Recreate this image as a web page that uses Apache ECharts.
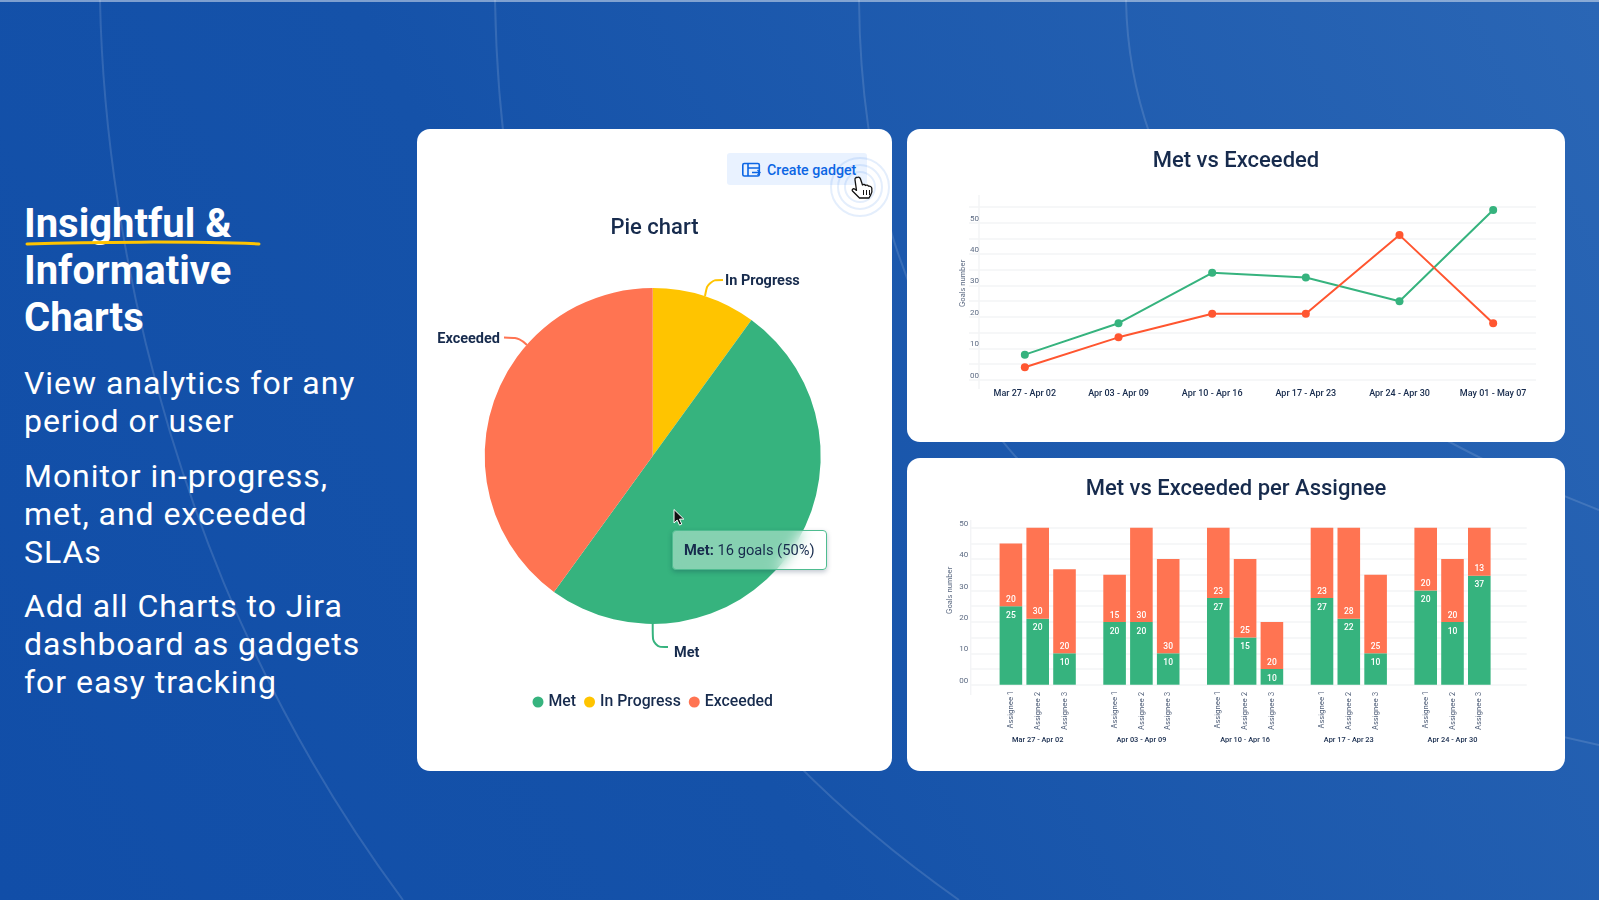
<!DOCTYPE html>
<html>
<head>
<meta charset="utf-8">
<title>Insightful & Informative Charts</title>
<script src="https://cdn.jsdelivr.net/npm/echarts@6/dist/echarts.min.js"></script>
<style>
html, body { margin: 0; padding: 0; }
body { width: 1599px; height: 900px; overflow: hidden; position: relative; font-family: Roboto, sans-serif;
       background: linear-gradient(62deg, #114ea8 0%, #1552a9 40%, #2a66b5 100%); }
#bg { position: absolute; left: 0; top: 0; }
.side { position: absolute; left: 24px; color: #fff; margin: 0; }
.head { top: 199.5px; font-size: 40px; line-height: 47px; font-weight: 700; white-space: nowrap; }
.txt { font-size: 32px; line-height: 38px; letter-spacing: 0.96px; font-weight: 400; white-space: nowrap; }
.card { position: absolute; background: #fff; border-radius: 13px; }
#pieCard { left: 417px; top: 129px; width: 475px; height: 642px; }
#lineCard { left: 907px; top: 129px; width: 658px; height: 313px; }
#barCard { left: 907px; top: 458px; width: 658px; height: 313px; }
#gadget { position: absolute; left: 727px; top: 153px; width: 140px; height: 32px; background: #e9f2ff; border-radius: 3px;
          color: #0c66e4; font-size: 14.2px; font-weight: 500; line-height: 34px; text-indent: 40px; white-space: nowrap; }
#overlay { position: absolute; left: 0; top: 0; pointer-events: none; }
</style>
</head>
<body>
<svg id="bg" width="1599" height="900" fill="none" stroke="#fff" stroke-opacity="0.13" stroke-width="2">
  <path d="M100 0C105 250 180 600 403 900"/>
  <path d="M495 0C500 300 590 640 959 900"/>
  <path d="M859 0C862 330 1010 620 1599 745"/>
  <path d="M1126 0C1130 220 1290 390 1599 510"/>
  <path d="M0 1H1599" stroke-opacity="0.45"/>
</svg>

<div class="side head">Insightful &amp;<br>Informative<br>Charts</div>
<svg id="underline" style="position:absolute;left:0;top:0" width="300" height="260" fill="none">
  <path d="M27 244C90 242 190 241 259 244" stroke="#ffc400" stroke-width="3" stroke-linecap="round"/>
</svg>
<div class="side txt" style="top:364px">View analytics for any<br>period or user</div>
<div class="side txt" style="top:457px">Monitor in-progress,<br>met, and exceeded<br>SLAs</div>
<div class="side txt" style="top:587px">Add all Charts to Jira<br>dashboard as gadgets<br>for easy tracking</div>

<div class="card" id="pieCard"></div>
<div class="card" id="lineCard"></div>
<div class="card" id="barCard"></div>

<div id="gadget">Create gadget</div>
<svg id="overlay" width="1599" height="900" fill="none">
  <!-- gadget icon -->
  <g stroke="#0c66e4" stroke-width="1.6">
    <rect x="742.8" y="163.5" width="16.5" height="12.5" rx="1.5"/>
    <path d="M748 163.5V176M748 168H759"/>
    <path d="M752 172.5H760M757.5 170L760 172.5L757.5 175" stroke-width="1.3"/>
  </g>
  <!-- click rings -->
  <g stroke="#0c66e4" stroke-opacity="0.11" stroke-width="2">
    <circle cx="860" cy="187" r="29"/>
    <circle cx="860" cy="187" r="22"/>
    <circle cx="860" cy="187" r="15"/>
  </g>
  <!-- hand cursor -->
  <path d="M857 177.500c1.500-1 3 0 3.500 1.500l2 6c1-1 2.500-.5 3 .5c1-.8 2.500-.3 3 .7c1.500-.5 3 .5 3.300 2c.4 2 0 5-1.200 7l-1.600 2.800h-9.500l-7-7c-1-1.200.5-3 2.500-1.800l1.500 1.200l-1.500-10.500c-.2-1 .2-2 1-2.400z" fill="#fff" stroke="#111" stroke-width="1.300" stroke-linejoin="round"/>
  <path d="M863.500 190v5M866.500 190v5M869.500 190v5" stroke="#111" stroke-width="1"/>
  <!-- mouse pointer -->
  <path d="M674 509.500V523l3.200-2.900l2.300 5l2.300-1l-2.300-5h4.300z" fill="#111" stroke="#fff" stroke-width="1"/>
</svg>

<script>
// ---- pie data ----
var pieNames = ['In Progress', 'Met', 'Exceeded'];
var pieValues = [3.2, 16, 12.8];
var pieColors = ['#ffc400', '#36b37e', '#ff7452'];
var legendNames = ['Met', 'In Progress', 'Exceeded'];

// ---- line data ----
var linePeriods = ['Mar 27 - Apr 02', 'Apr 03 - Apr 09', 'Apr 10 - Apr 16', 'Apr 17 - Apr 23', 'Apr 24 - Apr 30', 'May 01 - May 07'];
var lineMet = [8, 18, 34, 32.5, 25, 54];
var lineExceeded = [4, 13.5, 21, 21, 46, 18];

// ---- bar data: one row per period, one column per assignee ----
var barPeriods = ['Mar 27 - Apr 02', 'Apr 03 - Apr 09', 'Apr 10 - Apr 16', 'Apr 17 - Apr 23', 'Apr 24 - Apr 30'];
var assignees = ['Assignee 1', 'Assignee 2', 'Assignee 3'];
var barMet = [[25, 21, 10], [20, 20, 10], [27.6, 15, 5], [27.6, 21, 10], [30, 20, 34.7]];
var barExceeded = [[20, 29, 26.8], [15, 30, 30], [22.4, 25, 15], [22.4, 29, 25], [20, 20, 15.3]];
var barMetLabels = [[25, 20, 10], [20, 20, 10], [27, 15, 10], [27, 22, 10], [20, 10, 37]];
var barExceededLabels = [[20, 30, 20], [15, 30, 30], [23, 25, 20], [23, 28, 25], [20, 20, 13]];

var yTickLabels = ['00', '10', '20', '30', '40', '50'];

var NAVY = '#172b4d';
var GREY = '#5e6c84';
var GRIDLINE = '#f3f4f6';
var GREEN = '#36b37e';
var ORANGE = '#ff7452';
var RED = '#ff5630';

function yLabel(v) {
    return v % 10 === 0 ? yTickLabels[v / 10] : '';
}

function drawPie() {
    var chart = echarts.init(document.getElementById('pieCard'), null, { width: 475, height: 642 });
    // label spots are hand placed in the original, not on the slice middle
    var labelSpots = {
        'In Progress': { x: 308, y: 152, align: 'left', line: [[288, 167], [291, 151], [306, 151]] },
        'Met': { x: 257, y: 524, align: 'left', line: [[235.7, 495], [235.7, 518], [251, 518]] },
        'Exceeded': { x: 83, y: 210.5, align: 'right', line: [[110, 216], [103, 209], [87, 208.5]] }
    };
    var option = {
        animation: false,
        title: {
            text: 'Pie chart', left: 'center', top: 83,
            textStyle: { color: NAVY, fontFamily: 'Roboto', fontSize: 22, fontWeight: 500 }
        },
        color: pieColors,
        tooltip: {
            trigger: 'item',
            alwaysShowContent: true,
            transitionDuration: 0,
            position: [255, 401],
            padding: [0, 11],
            borderWidth: 0,
            backgroundColor: 'rgba(255,255,255,0.4)',
            extraCssText: 'width:131px;height:38px;line-height:38px;border:1.5px solid #4fbc90;border-radius:4px;' +
                'box-shadow:0 2px 5px rgba(9,30,66,.25);backdrop-filter:blur(7px);white-space:nowrap;box-sizing:content-box;',
            formatter: function (p) {
                return '<span style="font:400 14.7px Roboto;color:' + NAVY + '"><b style="font-weight:700">' + p.name + ':</b> ' +
                    p.value + ' goals (' + p.percent + '%)</span>';
            }
        },
        legend: {
            data: legendNames, left: 110.5, top: 560, itemWidth: 11, itemHeight: 11, itemGap: 8, icon: 'circle',
            textStyle: { color: NAVY, fontFamily: 'Roboto', fontSize: 15.8, fontWeight: 500 }
        },
        series: [{
            type: 'pie',
            radius: 168,
            center: [235.7, 327],
            startAngle: 90,
            avoidLabelOverlap: false,
            data: pieNames.map(function (n, i) { return { name: n, value: pieValues[i] }; }),
            label: { show: true, color: NAVY, fontFamily: 'Roboto', fontSize: 14.5, fontWeight: 700 },
            labelLine: { show: true, smooth: 0.4, lineStyle: { width: 2 } },
            labelLayout: function (p) {
                var s = labelSpots[p.text];
                return { x: s.x, y: s.y, align: s.align, verticalAlign: 'middle', labelLinePoints: s.line };
            }
        }]
    };
    chart.setOption(option);
    chart.dispatchAction({ type: 'showTip', seriesIndex: 0, dataIndex: 1 });
}

function drawLine() {
    var chart = echarts.init(document.getElementById('lineCard'), null, { width: 658, height: 313 });
    var option = {
        animation: false,
        title: {
            text: 'Met vs Exceeded', left: 'center', top: 16,
            textStyle: { color: NAVY, fontFamily: 'Roboto', fontSize: 22, fontWeight: 500 }
        },
        // first grid only carries the gridlines, the marks sit in the second one
        grid: [
            { left: 62, top: 77.8, width: 567, height: 173 },
            { left: 71, top: 77.8, width: 562, height: 173 }
        ],
        xAxis: [
            { gridIndex: 0, type: 'category', show: false, data: linePeriods },
            {
                gridIndex: 1, type: 'category', data: linePeriods,
                axisLine: { show: false }, axisTick: { show: false },
                axisLabel: { interval: 0, margin: 9.5, color: NAVY, fontFamily: 'Roboto', fontSize: 9, fontWeight: 500 }
            }
        ],
        yAxis: [
            {
                gridIndex: 0, type: 'value', min: 0, max: 55, interval: 5,
                name: 'Goals number', nameLocation: 'middle', nameGap: 3, nameMoveOverlap: false,
                nameTextStyle: { color: GREY, fontFamily: 'Inter', fontSize: 7.2, padding: [0, 0, 0, 20] },
                axisLine: { show: false }, axisTick: { show: false },
                axisLabel: { inside: true, margin: 1, verticalAlign: 'bottom', color: GREY, fontFamily: 'Roboto', fontSize: 8, formatter: yLabel },
                splitLine: { lineStyle: { color: GRIDLINE, width: 1.5 } }
            },
            { gridIndex: 1, type: 'value', min: 0, max: 55, show: false }
        ],
        graphic: [{
            type: 'line', z: 0,
            shape: { x1: 72, y1: 66, x2: 72, y2: 260 },
            style: { stroke: GRIDLINE, lineWidth: 1.5 }
        }],
        series: [
            {
                name: 'Met', type: 'line', xAxisIndex: 1, yAxisIndex: 1, data: lineMet,
                symbol: 'circle', symbolSize: 8, color: GREEN, lineStyle: { width: 2 }
            },
            {
                name: 'Exceeded', type: 'line', xAxisIndex: 1, yAxisIndex: 1, data: lineExceeded,
                symbol: 'circle', symbolSize: 8, color: RED, lineStyle: { width: 2 }
            }
        ]
    };
    chart.setOption(option);
}

function drawBars() {
    var chart = echarts.init(document.getElementById('barCard'), null, { width: 658, height: 313 });
    var series = [];
    for (var a = 0; a < assignees.length; a++) {
        (function (a) {
            // empty bar at the foot of each stack, only there to hold the assignee label
            series.push({
                type: 'bar', xAxisIndex: 1, yAxisIndex: 1, stack: 'a' + a, barWidth: 22.6, barGap: '18.6%',
                data: barPeriods.map(function () { return 0; }),
                label: {
                    show: true, position: 'bottom', distance: 7, rotate: 90, align: 'right', verticalAlign: 'middle',
                    color: '#505f79', fontFamily: 'Inter', fontSize: 7.3, formatter: assignees[a]
                }
            });
            series.push({
                name: 'Met', type: 'bar', xAxisIndex: 1, yAxisIndex: 1, stack: 'a' + a, color: GREEN,
                data: barMet.map(function (row) { return row[a]; }),
                label: {
                    show: true, position: 'insideTop', distance: 5, color: '#fff', fontFamily: 'Roboto', fontSize: 8.5, fontWeight: 500,
                    formatter: function (p) { return barMetLabels[p.dataIndex][a]; }
                }
            });
            series.push({
                name: 'Exceeded', type: 'bar', xAxisIndex: 1, yAxisIndex: 1, stack: 'a' + a, color: ORANGE,
                data: barExceeded.map(function (row) { return row[a]; }),
                label: {
                    show: true, position: 'insideBottom', distance: 2, color: '#fff', fontFamily: 'Roboto', fontSize: 8.5, fontWeight: 500,
                    formatter: function (p) { return barExceededLabels[p.dataIndex][a]; }
                }
            });
        })(a);
    }
    var option = {
        animation: false,
        title: {
            text: 'Met vs Exceeded per Assignee', left: 'center', top: 15.5,
            textStyle: { color: NAVY, fontFamily: 'Roboto', fontSize: 22, fontWeight: 500 }
        },
        grid: [
            { left: 63.7, top: 69.7, width: 556, height: 157 },
            { left: 78.85, top: 69.7, width: 518.5, height: 157 }
        ],
        xAxis: [
            { gridIndex: 0, type: 'category', show: false, data: barPeriods },
            {
                gridIndex: 1, type: 'category', data: barPeriods,
                axisLine: { show: false }, axisTick: { show: false },
                axisLabel: { interval: 0, margin: 52, color: NAVY, fontFamily: 'Roboto', fontSize: 7.4, fontWeight: 500 }
            }
        ],
        yAxis: [
            {
                gridIndex: 0, type: 'value', min: 0, max: 50, interval: 5,
                name: 'Goals number', nameLocation: 'middle', nameGap: 17, nameMoveOverlap: false,
                nameTextStyle: { color: GREY, fontFamily: 'Inter', fontSize: 7.2, padding: [0, 0, 0, 32] },
                axisLine: { show: false }, axisTick: { show: false },
                axisLabel: { margin: 2.5, verticalAlign: 'bottom', color: GREY, fontFamily: 'Roboto', fontSize: 8, formatter: yLabel },
                splitLine: { lineStyle: { color: GRIDLINE, width: 1.5 } }
            },
            { gridIndex: 1, type: 'value', min: 0, max: 50, show: false }
        ],
        graphic: [{
            type: 'line', z: 0,
            shape: { x1: 63.7, y1: 62, x2: 63.7, y2: 237 },
            style: { stroke: GRIDLINE, lineWidth: 1.5 }
        }],
        series: series
    };
    chart.setOption(option);
}

drawPie();
drawLine();
drawBars();
</script>
</body>
</html>
